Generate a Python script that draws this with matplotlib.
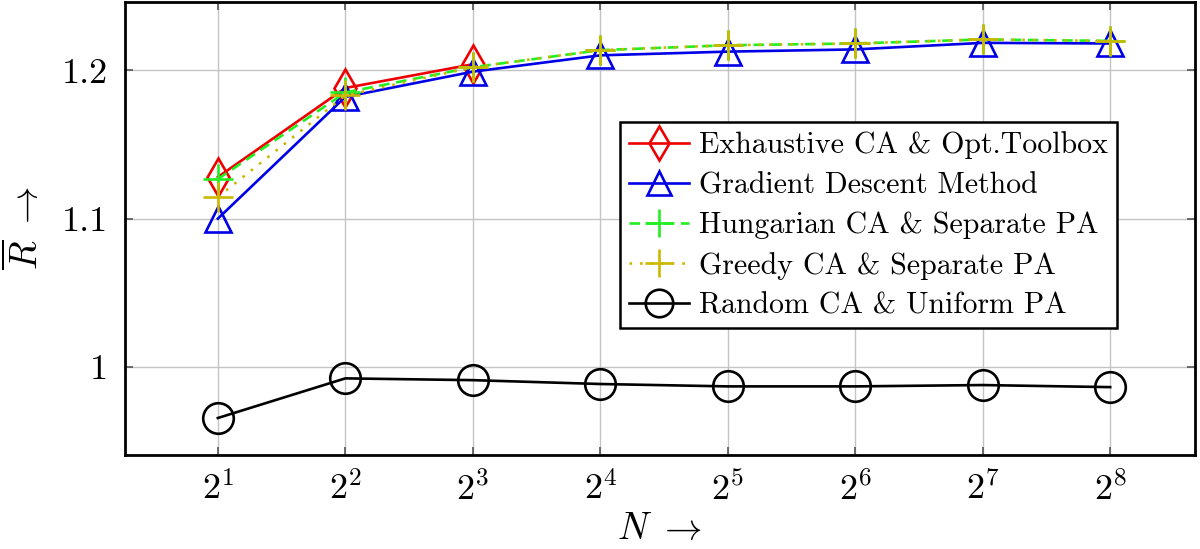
import matplotlib.pyplot as plt
import numpy as np

plt.rcParams['font.family'] = 'serif'
plt.rcParams['font.serif'] = ['cmr10', 'DejaVu Serif']
plt.rcParams['mathtext.fontset'] = 'cm'
plt.rcParams['axes.unicode_minus'] = False

# data
N = [2, 4, 8, 16, 32, 64, 128, 256]
exhaustive = [1.128, 1.188, 1.204]          # only first three N
gradient = [1.100, 1.182, 1.199, 1.210, 1.2125, 1.214, 1.2184, 1.218]
hungarian = [1.1266, 1.185, 1.202, 1.2135, 1.2168, 1.218, 1.2207, 1.2197]
greedy = [1.1145, 1.183, 1.202, 1.2135, 1.2168, 1.218, 1.2207, 1.2197]
random_ca = [0.9657, 0.9924, 0.9912, 0.9886, 0.987, 0.987, 0.9879, 0.9865]
xlabels = [r'$2^{%d}$' % k for k in range(1, 9)]

fig = plt.figure(figsize=(12, 5.49), dpi=100)
ax = fig.add_axes([0.104, 0.171, 0.892, 0.825])

lw = 1.9
ax.plot(N[:3], exhaustive, color='#ee0000', lw=lw, marker='d', ms=19,
        mfc='none', mec='#ee0000', mew=lw, label='Exhaustive CA & Opt.Toolbox')
ax.plot(N, gradient, color='#0000e6', lw=lw, marker='^', ms=19,
        mfc='none', mec='#0000e6', mew=lw, label='Gradient Descent Method')
ax.plot(N, hungarian, color='#22ee22', lw=lw, ls=(0, (4, 2.5)), marker='+', ms=22,
        mew=lw, label='Hungarian CA & Separate PA')
ax.plot(N, greedy, color='#ccb800', lw=lw, ls=(0, (1, 3)), marker='+', ms=22,
        mew=lw, label='Greedy CA & Separate PA')
ax.plot(N, random_ca, color='black', lw=lw, marker='o', ms=22,
        mfc='none', mec='black', mew=lw, label='Random CA & Uniform PA')

ax.set_xscale('log', base=2)
ax.set_xlim(2 ** 0.27, 2 ** 8.667)
ax.set_ylim(0.9407, 1.2458)
ax.set_xticks(N)
ax.set_xticklabels(xlabels)
ax.minorticks_off()
ax.set_yticks([1.0, 1.1, 1.2])
ax.set_yticklabels(['1', '1.1', '1.2'])

ax.grid(True, color='#c4c4c4', lw=1.0)
ax.tick_params(direction='in', length=6, width=1.2, color='#555555',
               top=True, right=True, labelsize=26, pad=12)
for s in ax.spines.values():
    s.set_linewidth(2.0)

ax.set_xlabel(r'$N\ \rightarrow$', fontsize=27, labelpad=4)
ax.set_ylabel(r'$\overline{R}\ \rightarrow$', fontsize=27, labelpad=12)

leg = ax.legend(loc='upper right', bbox_to_anchor=(0.927, 0.735), fontsize=21.5,
                fancybox=False, edgecolor='black', framealpha=1,
                handlelength=2.0, handletextpad=0.35, labelspacing=0.42,
                borderpad=0.3, borderaxespad=0.0, markerscale=0.9)
leg.get_frame().set_linewidth(1.8)

fig.savefig('out.png', dpi=100)
